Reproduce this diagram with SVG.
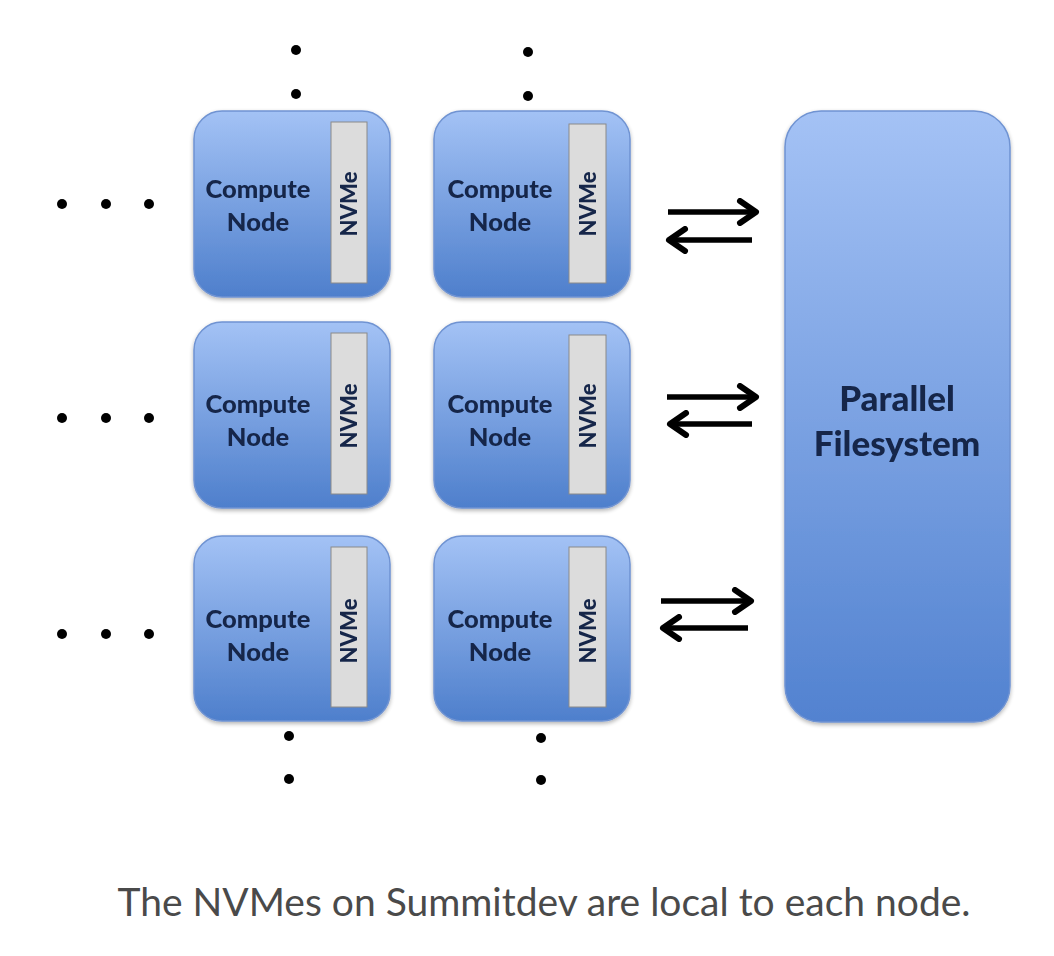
<svg xmlns="http://www.w3.org/2000/svg" width="1054" height="956" viewBox="0 0 1054 956">
<defs>
<linearGradient id="gNode" x1="0" y1="0" x2="0" y2="1">
<stop offset="0" stop-color="#a3c2f5"/>
<stop offset="1" stop-color="#4e7fcc"/>
</linearGradient>
<linearGradient id="gPfs" x1="0" y1="0" x2="0" y2="1">
<stop offset="0" stop-color="#a4c2f5"/>
<stop offset="1" stop-color="#5282d0"/>
</linearGradient>
<filter id="sh" x="-10%" y="-10%" width="120%" height="120%">
<feGaussianBlur in="SourceAlpha" stdDeviation="2"/>
<feOffset dx="0" dy="2"/>
<feComponentTransfer><feFuncA type="linear" slope="0.3"/></feComponentTransfer>
<feMerge><feMergeNode/><feMergeNode in="SourceGraphic"/></feMerge>
</filter>
<marker id="head" viewBox="0 0 24 28" refX="20" refY="14" markerWidth="24" markerHeight="28" markerUnits="userSpaceOnUse" orient="auto">
<path d="M4,3 L20,14 L4,25" fill="none" stroke="#000" stroke-width="6" stroke-linecap="round" stroke-linejoin="round"/>
</marker>
</defs>
<style>
.node{fill:url(#gNode);stroke:#6f93d2;stroke-width:1.5}
.nvme{fill:#dcdcdc;stroke:#8a8a8a;stroke-width:1}
.lbl{font-family:Lato,"Open Sans",sans-serif;font-weight:900;fill:#14254a;text-anchor:middle}
.cn{font-size:25.5px}
.nv{font-size:22px}
.dot{fill:#000}
.arr{stroke:#000;stroke-width:5.5;fill:none;marker-end:url(#head)}
</style>
<rect width="1054" height="956" fill="#ffffff"/>

<g id="dots">
<circle class="dot" cx="296" cy="50" r="5"/>
<circle class="dot" cx="296" cy="94" r="5"/>
<circle class="dot" cx="528" cy="52" r="5"/>
<circle class="dot" cx="528" cy="96" r="5"/>
<circle class="dot" cx="62" cy="204" r="5"/>
<circle class="dot" cx="106" cy="204" r="5"/>
<circle class="dot" cx="149" cy="204" r="5"/>
<circle class="dot" cx="62" cy="418" r="5"/>
<circle class="dot" cx="106" cy="418" r="5"/>
<circle class="dot" cx="149" cy="418" r="5"/>
<circle class="dot" cx="62" cy="634" r="5"/>
<circle class="dot" cx="106" cy="634" r="5"/>
<circle class="dot" cx="149" cy="634" r="5"/>
<circle class="dot" cx="289" cy="736" r="5"/>
<circle class="dot" cx="289" cy="779" r="5"/>
<circle class="dot" cx="541" cy="738" r="5"/>
<circle class="dot" cx="541" cy="780" r="5"/>
</g>

<g id="node-r1c1" filter="url(#sh)">
<rect class="node" x="194" y="111" width="196" height="186" rx="28"/>
<rect class="nvme" x="331" y="122" width="36" height="161"/>
<text class="lbl cn" x="258" y="198">Compute</text>
<text class="lbl cn" x="258" y="231">Node</text>
<text class="lbl nv" transform="translate(357,204) rotate(-90)">NVMe</text>
</g>
<g id="node-r1c2" filter="url(#sh)">
<rect class="node" x="434" y="111" width="196" height="186" rx="28"/>
<rect class="nvme" x="569" y="124" width="37" height="159"/>
<text class="lbl cn" x="500" y="198">Compute</text>
<text class="lbl cn" x="500" y="231">Node</text>
<text class="lbl nv" transform="translate(596,204) rotate(-90)">NVMe</text>
</g>
<g id="node-r2c1" filter="url(#sh)">
<rect class="node" x="194" y="322" width="196" height="186" rx="28"/>
<rect class="nvme" x="331" y="333" width="36" height="161"/>
<text class="lbl cn" x="258" y="413">Compute</text>
<text class="lbl cn" x="258" y="446">Node</text>
<text class="lbl nv" transform="translate(357,416) rotate(-90)">NVMe</text>
</g>
<g id="node-r2c2" filter="url(#sh)">
<rect class="node" x="434" y="322" width="196" height="186" rx="28"/>
<rect class="nvme" x="569" y="335" width="37" height="159"/>
<text class="lbl cn" x="500" y="413">Compute</text>
<text class="lbl cn" x="500" y="446">Node</text>
<text class="lbl nv" transform="translate(596,416) rotate(-90)">NVMe</text>
</g>
<g id="node-r3c1" filter="url(#sh)">
<rect class="node" x="194" y="536" width="196" height="185" rx="28"/>
<rect class="nvme" x="331" y="547" width="36" height="160"/>
<text class="lbl cn" x="258" y="628">Compute</text>
<text class="lbl cn" x="258" y="661">Node</text>
<text class="lbl nv" transform="translate(357,631) rotate(-90)">NVMe</text>
</g>
<g id="node-r3c2" filter="url(#sh)">
<rect class="node" x="434" y="536" width="196" height="185" rx="28"/>
<rect class="nvme" x="569" y="547" width="37" height="160"/>
<text class="lbl cn" x="500" y="628">Compute</text>
<text class="lbl cn" x="500" y="661">Node</text>
<text class="lbl nv" transform="translate(596,631) rotate(-90)">NVMe</text>
</g>

<g id="parallel-filesystem" filter="url(#sh)">
<rect x="785" y="111" width="225" height="611" rx="36" fill="url(#gPfs)" stroke="#6f93d2" stroke-width="1.5"/>
<text class="lbl" x="897" y="411" font-size="35">Parallel</text>
<text class="lbl" x="897" y="456" font-size="35">Filesystem</text>
</g>

<g id="connectors">
<line class="arr" x1="668" y1="212" x2="756" y2="212"/>
<line class="arr" x1="752" y1="240" x2="669" y2="240"/>
<line class="arr" x1="667" y1="397" x2="756" y2="397"/>
<line class="arr" x1="752" y1="424" x2="670" y2="424"/>
<line class="arr" x1="661" y1="601" x2="751" y2="601"/>
<line class="arr" x1="748" y1="628" x2="663" y2="628"/>
</g>

<text id="caption" x="544" y="916" font-family="Lato,'Open Sans',sans-serif" font-size="39" fill="#4a4a4a" text-anchor="middle">The NVMes on Summitdev are local to each node.</text>
</svg>
